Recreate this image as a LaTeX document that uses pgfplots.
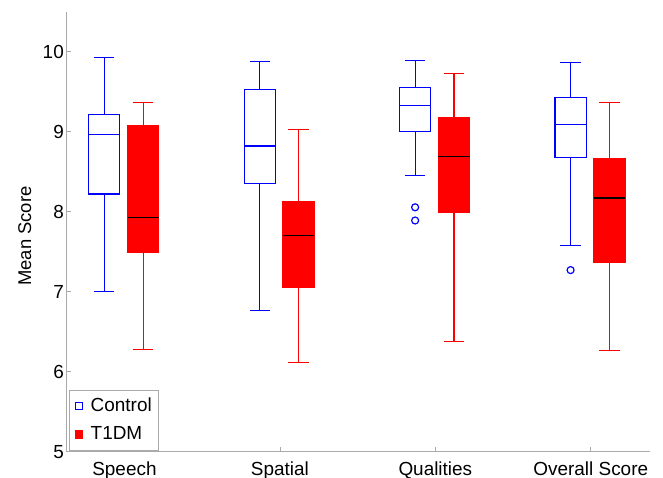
\documentclass[border=0pt]{standalone}
\usepackage{fontspec}
\setmainfont{Liberation Sans}
\usepackage{pgfplots}
\pgfplotsset{compat=1.18}
\usepgfplotslibrary{statistics}
\definecolor{axgray}{RGB}{170,170,170}
\definecolor{cblue}{RGB}{0,0,255}
\definecolor{cred}{RGB}{255,0,0}
\begin{document}
\fontsize{19}{22}\selectfont
\begin{tikzpicture}
\begin{axis}[
  name=ax,
  scale only axis,
  width=584bp, height=440bp,
  xmin=-0.376, xmax=3.381,
  ymin=5, ymax=10.5,
  axis x line*=bottom, axis y line*=left,
  axis line style={axgray, line width=0.6bp, -},
  xtick={0,1,2,3},
  xticklabels={Speech,Spatial,Qualities,Overall Score},
  ytick={5,6,7,8,9,10},
  tick style={axgray, line width=0.6bp},
  tick align=inside,
  major tick length=5bp,
  /pgf/number format/assume math mode=true,
  tick label style={font=\fontsize{19}{22}\selectfont, black},
  xticklabel style={inner sep=0pt, yshift=-9.5bp},
  yticklabel style={inner sep=0pt, xshift=-2bp},
  ylabel={Mean Score},
  ylabel style={font=\fontsize{18.5}{22}\selectfont, at={(axis description cs:-0.082,0.49)}, anchor=north, inner sep=0pt},
  boxplot/draw direction=y,
  boxplot/box extend=0.2,
  boxplot/whisker extend=0.13,
  ctrl/.style={draw=cblue, color=cblue, line width=1.2bp, mark=o, mark size=3.5bp},
  t1dm/.style={draw=cred, color=cred, fill=cred, line width=1.2bp},
  legend style={at={(axis description cs:0.0057,0.0039)}, anchor=south west,
    draw=axgray, fill=white, font=\fontsize{19}{22}\selectfont,
    inner xsep=5bp, inner ysep=6bp, row sep=9bp,
    nodes={inner sep=1.5bp},
    /tikz/every odd column/.append style={column sep=6bp}},
  legend cell align=left,
]
% ---- legend ----
\addlegendimage{legend image code/.code={\draw[cblue, line width=1.1bp] (0bp,-3.8bp) rectangle (7.6bp,3.8bp);}}
\addlegendentry{Control}
\addlegendimage{legend image code/.code={\fill[cred] (0bp,-3.8bp) rectangle (7.6bp,3.8bp);}}
\addlegendentry{T1DM}
% ---- Control (blue) ----
\addplot[ctrl,
  boxplot prepared={draw position=-0.13, lower whisker=7.00, lower quartile=8.22,
    median=8.96, upper quartile=9.21, upper whisker=9.93,
    every box/.style={draw=cblue, line width=1.2bp},
    every median/.style={draw=cblue, line width=1.2bp}}] coordinates {};
\addplot[ctrl,
  boxplot prepared={draw position=0.87, lower whisker=6.76, lower quartile=8.355,
    median=8.82, upper quartile=9.53, upper whisker=9.88,
    every box/.style={draw=cblue, line width=1.2bp},
    every median/.style={draw=cblue, line width=1.2bp}}] coordinates {};
\addplot[ctrl,
  boxplot prepared={draw position=1.87, lower whisker=8.45, lower quartile=9.005,
    median=9.33, upper quartile=9.55, upper whisker=9.89,
    every box/.style={draw=cblue, line width=1.2bp},
    every median/.style={draw=cblue, line width=1.2bp}}]
  table[row sep=\\, y index=0] {data\\ 8.055\\ 7.89\\};
\addplot[ctrl,
  boxplot prepared={draw position=2.87, lower whisker=7.575, lower quartile=8.675,
    median=9.09, upper quartile=9.43, upper whisker=9.86,
    every box/.style={draw=cblue, line width=1.2bp},
    every median/.style={draw=cblue, line width=1.2bp}}]
  table[row sep=\\, y index=0] {data\\ 7.27\\};
% ---- T1DM (red) ----
\addplot[t1dm,
  boxplot prepared={draw position=0.12, lower whisker=6.28, lower quartile=7.49,
    median=7.925, upper quartile=9.07, upper whisker=9.36,
    every box/.style={draw=cred, fill=cred, line width=1.2bp},
    every median/.style={draw=black, line width=1.2bp}}] coordinates {};
\addplot[t1dm,
  boxplot prepared={draw position=1.12, lower whisker=6.11, lower quartile=7.05,
    median=7.705, upper quartile=8.12, upper whisker=9.03,
    every box/.style={draw=cred, fill=cred, line width=1.2bp},
    every median/.style={draw=black, line width=1.2bp}}] coordinates {};
\addplot[t1dm,
  boxplot prepared={draw position=2.12, lower whisker=6.38, lower quartile=7.99,
    median=8.69, upper quartile=9.17, upper whisker=9.725,
    every box/.style={draw=cred, fill=cred, line width=1.2bp},
    every median/.style={draw=black, line width=1.2bp}}] coordinates {};
\addplot[t1dm,
  boxplot prepared={draw position=3.12, lower whisker=6.26, lower quartile=7.37,
    median=8.17, upper quartile=8.66, upper whisker=9.36,
    every box/.style={draw=cred, fill=cred, line width=1.2bp},
    every median/.style={draw=black, line width=1.2bp}}] coordinates {};
\end{axis}
\pgfresetboundingbox
\path ([shift={(-66bp,-26.3bp)}]ax.south west) rectangle ([shift={(13bp,11.7bp)}]ax.north east);
\end{tikzpicture}
\end{document}
